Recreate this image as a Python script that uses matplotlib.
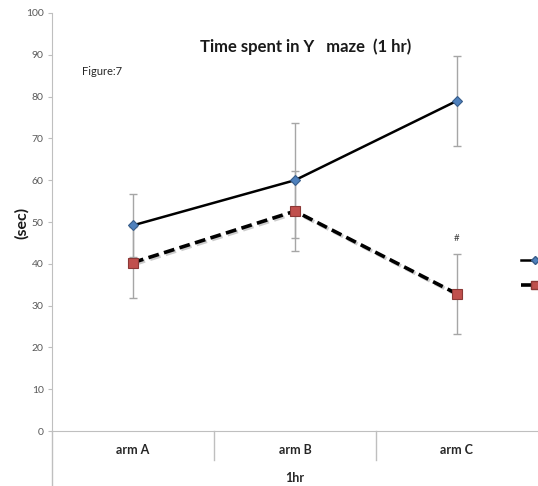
import matplotlib
matplotlib.use("Agg")
import matplotlib.pyplot as plt
import matplotlib.patheffects as pe
from matplotlib.lines import Line2D

plt.rcParams["font.family"] = ["Lato", "DejaVu Sans"]

# data
arms = ["arm A", "arm B", "arm C"]
group_label = "1hr"
solid_mean = [49.2, 60.0, 79.0]
solid_err = [7.5, 13.8, 10.7]
dashed_mean = [40.3, 52.6, 32.8]
dashed_err = [8.6, 9.5, 9.6]
yticks = [0, 10, 20, 30, 40, 50, 60, 70, 80, 90, 100]

W, H = 538, 486
fig = plt.figure(figsize=(W / 100, H / 100), dpi=100)
ax = fig.add_axes([52 / W, (H - 431) / H, (538 - 52) / W, (431 - 13) / H])

x = list(range(len(arms)))
grey = "#BFBFBF"

ax.errorbar(x, solid_mean, yerr=solid_err, fmt="none", ecolor="#A6A6A6",
            elinewidth=1.0, capsize=3, capthick=1.0, zorder=2)
ax.errorbar(x, dashed_mean, yerr=dashed_err, fmt="none", ecolor="#A6A6A6",
            elinewidth=1.0, capsize=3, capthick=1.0, zorder=2)

shadow = [pe.SimpleLineShadow(offset=(1.2, -1.2), alpha=0.2), pe.Normal()]
ax.plot(x, solid_mean, color="black", lw=1.8, marker="D", ms=5,
        mfc="#4F81BD", mec="#385D8A", mew=0.8, zorder=3)
ax.plot(x, dashed_mean, color="black", lw=2.6, ls=(0, (3, 1.5)), zorder=4,
        path_effects=shadow)
ax.plot(x, dashed_mean, ls="none", marker="s", ms=7, mfc="#C0504D",
        mec="#8C3836", mew=0.8, zorder=5)

ax.text(2, 46, "#", ha="center", va="center", fontsize=7, color="#404040")

ax.set_xlim(-0.5, 2.5)
ax.set_ylim(0, 100)
ax.set_yticks(yticks)
ax.tick_params(axis="y", length=3, color=grey, labelcolor="#595959",
               labelsize=7.5, pad=3)
ax.set_xticks([])
for s in ["top", "right"]:
    ax.spines[s].set_visible(False)
ax.spines["left"].set_color(grey)
ax.spines["bottom"].set_color(grey)

# category axis: separators, labels and group label below
tr = ax.transAxes
ax.add_line(Line2D([0, 0], [0, -55 / 418], transform=tr, color=grey,
                   lw=1, clip_on=False))
for b in [1 / 3, 2 / 3]:
    ax.add_line(Line2D([b, b], [0, -29 / 418], transform=tr, color=grey,
                       lw=1, clip_on=False))
for i, a in enumerate(arms):
    ax.text((i + 0.5) / 3, -19 / 418, a, transform=tr, ha="center",
            va="center", fontsize=9, fontweight="bold", color="#262626")
ax.text(0.5, -47 / 418, group_label, transform=tr, ha="center", va="center",
        fontsize=9, fontweight="bold", color="#262626")

fig.text(22 / W, 1 - 223 / H, "(sec)", rotation=90, ha="center", va="center",
         fontsize=11.5, fontweight="bold", color="#1a1a1a")
fig.text(306 / W, 1 - 47 / H, "Time spent in Y   maze  (1 hr)", ha="center",
         va="center", fontsize=12, fontweight="bold", color="#1a1a1a")
fig.text(82 / W, 1 - 71 / H, "Figure:7", ha="left", va="center", fontsize=8,
         color="#262626")

# legend, cut off at the right edge as in the reference
h1 = Line2D([], [], color="black", lw=1.8, marker="D", ms=4,
            mfc="#4F81BD", mec="#385D8A")
h2 = Line2D([], [], color="black", lw=2.6, ls=(0, (3, 1.5)), marker="s",
            ms=6, mfc="#C0504D", mec="#8C3836")
fig.legend([h1, h2], ["", ""], loc="upper left",
           bbox_to_anchor=(514 / W, 1 - 248 / H), frameon=False,
           handlelength=2.0, labelspacing=0.9, borderpad=0, handletextpad=0.3)

fig.savefig("out.png", dpi=100)
